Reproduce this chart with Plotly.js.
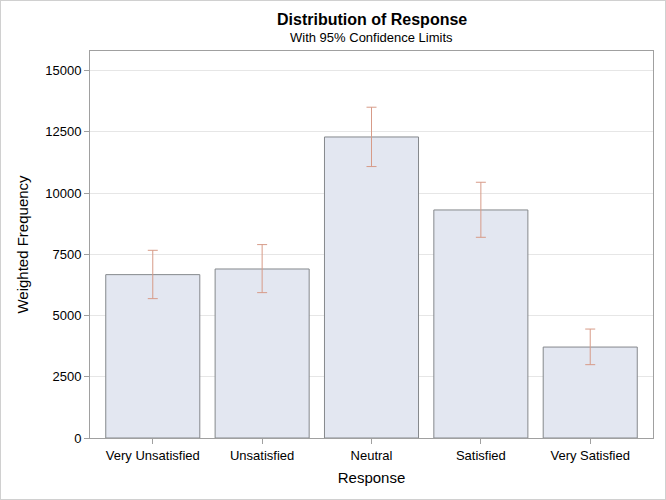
<!DOCTYPE html>
<html>
<head>
<meta charset="utf-8">
<script src="https://cdn.plot.ly/plotly-3.0.1.min.js"></script>
<style>
html,body{margin:0;padding:0;background:#fff;}
#chart{width:664px;height:498px;border:1px solid #d0d0d0;}
</style>
</head>
<body>
<div id="chart"></div>
<script>
var categories = ["Very Unsatisfied", "Unsatisfied", "Neutral", "Satisfied", "Very Satisfied"];
var frequency = [6670, 6900, 12290, 9310, 3713];
var upperLimit = [7663, 7896, 13505, 10441, 4448];
var lowerLimit = [5690, 5935, 11082, 8194, 2994];
var yTicks = [0, 2500, 5000, 7500, 10000, 12500, 15000];

var errPlus = frequency.map(function(v, i){ return upperLimit[i] - v; });
var errMinus = frequency.map(function(v, i){ return v - lowerLimit[i]; });

var font = "Liberation Sans, Arial, sans-serif";

var trace = {
  type: "bar",
  x: categories,
  y: frequency,
  marker: {color: "#e3e7f1", line: {color: "#85888c", width: 1}},
  error_y: {
    type: "data", symmetric: false,
    array: errPlus, arrayminus: errMinus,
    color: "#d79b88", thickness: 1, width: 5
  },
  hoverinfo: "none"
};

var layout = {
  width: 664, height: 498,
  margin: {l: 89, r: 12, t: 50, b: 61},
  paper_bgcolor: "#ffffff",
  plot_bgcolor: "#ffffff",
  bargap: 0.14,
  showlegend: false,
  font: {family: font, color: "#000"},
  xaxis: {
    type: "category",
    range: [-0.574, 4.574],
    showline: true, linecolor: "#a0a0a0", linewidth: 1, mirror: true,
    ticks: "outside", ticklen: 5, tickcolor: "#a0a0a0",
    tickfont: {size: 13, family: font},
    title: {text: "Response", font: {size: 15, family: font}, standoff: 10},
    showgrid: false
  },
  yaxis: {
    range: [0, 15800],
    tickvals: yTicks,
    ticktext: yTicks.map(String),
    showline: true, linecolor: "#a0a0a0", linewidth: 1, mirror: true,
    ticks: "outside", ticklen: 5, tickcolor: "#a0a0a0",
    tickfont: {size: 13, family: font},
    showgrid: true, gridcolor: "#e6e6e6", gridwidth: 1,
    zeroline: false,
    title: {text: "Weighted Frequency", font: {size: 15, family: font}, standoff: 12}
  },
  annotations: [
    {text: "<b>Distribution of Response</b>", xref: "paper", yref: "paper",
     x: 0.5, y: 1, yshift: 32, showarrow: false, xanchor: "center", yanchor: "middle",
     font: {size: 16, family: font}},
    {text: "With 95% Confidence Limits", xref: "paper", yref: "paper",
     x: 0.5, y: 1, yshift: 14, showarrow: false, xanchor: "center", yanchor: "middle",
     font: {size: 13, family: font}}
  ]
};

Plotly.newPlot("chart", [trace], layout, {displayModeBar: false, staticPlot: true});
</script>
</body>
</html>
